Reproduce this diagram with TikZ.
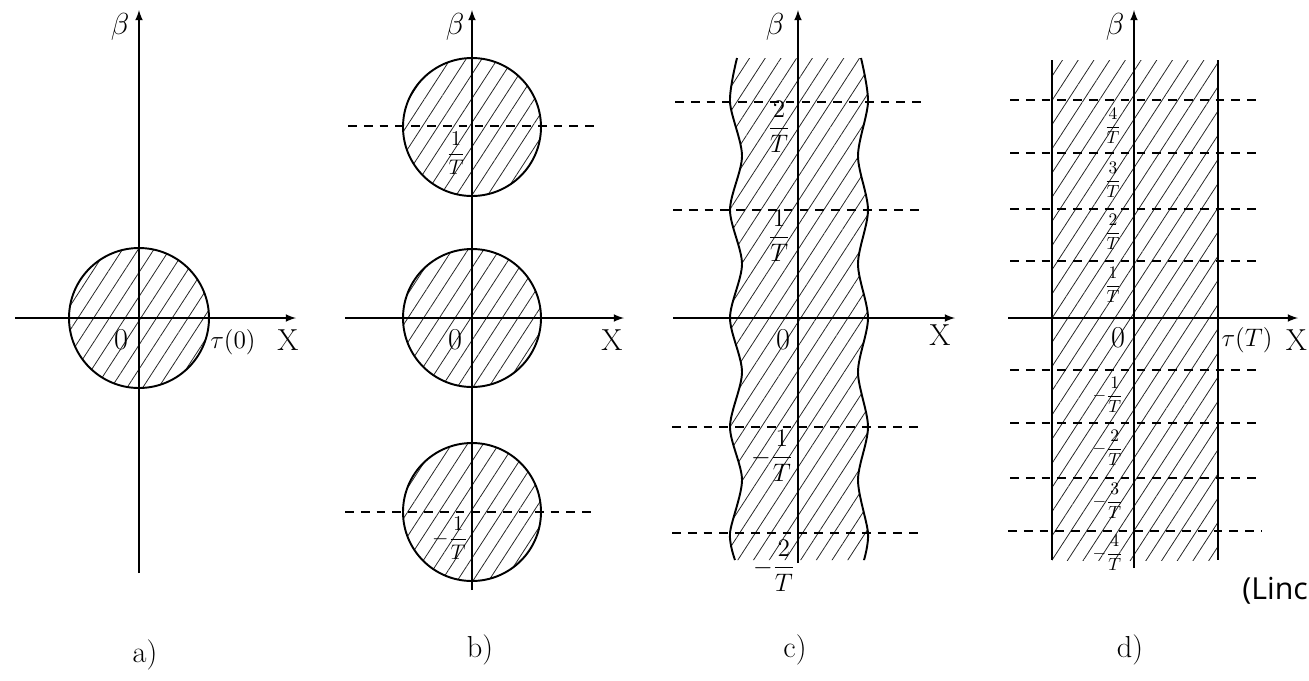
\documentclass[tikz,border=0pt]{standalone}
\usepackage{amsmath}
\usepackage{fontspec}
\newfontfamily\notefont{Open Sans}
\usetikzlibrary{patterns.meta}

\begin{document}
\begin{tikzpicture}[x=0.02cm,y=-0.02cm,>=latex,
  axis/.style={line width=1pt,->},
  rim/.style={line width=1.1pt},
  gridline/.style={dashed,line width=0.6pt,dash pattern=on 5pt off 4pt},
  hatch/.style={pattern={Lines[angle=57,distance=7.5pt,line width=0.45pt]},pattern color=black!85},
  lab/.style={font=\LARGE,inner sep=1pt},
  taulab/.style={font=\Large,inner sep=1pt},
  frac/.style={font=\Large,inner sep=1pt},
  fracb/.style={font=\large,inner sep=1pt},
  fracd/.style={font=\normalsize,inner sep=1pt}]

\useasboundingbox (0,0) rectangle (1309,680);

% a)
\filldraw[rim,hatch] (139,318) circle [radius=70];
\draw[axis] (15,318) -- (296,318);
\draw[axis] (139,573) -- (139,10);
\node[lab] (aBeta) at (120,27) {$\beta$};
\node[lab] (aZero) at (121,340) {$0$};
\node[taulab] (aTau) at (233,342) {$\tau(0)$};
\node[lab] (aX) at (288,340) {X};
\node[lab] (aCap) at (145,655) {a)};

% b)
\filldraw[rim,hatch] (472,127) circle [radius=69];
\filldraw[rim,hatch] (472,318) circle [radius=69];
\filldraw[rim,hatch] (472,512) circle [radius=69];
\draw[gridline] (348,126) -- (598,126);
\draw[gridline] (345,512) -- (598,512);
\draw[axis] (345,318) -- (624,318);
\draw[axis] (472,590) -- (472,10);
\node[lab] (bBeta) at (455,27) {$\beta$};
\node[fracb] (bOne) at (456,153) {$\dfrac{1}{T}$};
\node[lab] (bZero) at (455,340) {$0$};
\node[lab] (bX) at (612,340) {X};
\node[fracb] (bMinusOne) at (450,538) {$-\dfrac{1}{T}$};
\node[lab] (bCap) at (480,650) {b)};

% c)  wavy band
\path[hatch] plot[smooth] coordinates {(737,58) (730,102) (742,156) (730,210) (742,264) (730,318)
    (742,372) (730,427) (742,480) (730,533) (735,560)}
  -- plot[smooth] coordinates {(864,560) (868,533) (858,480) (868,427) (858,372) (868,318)
    (858,264) (868,210) (858,156) (868,102) (861,58)} -- cycle;
\draw[rim] plot[smooth] coordinates {(737,58) (730,102) (742,156) (730,210) (742,264) (730,318)
    (742,372) (730,427) (742,480) (730,533) (735,560)};
\draw[rim] plot[smooth] coordinates {(864,560) (868,533) (858,480) (868,427) (858,372) (868,318)
    (858,264) (868,210) (858,156) (868,102) (861,58)};
\draw[gridline] (675,102) -- (928,102);
\draw[gridline] (673,210) -- (926,210);
\draw[gridline] (672,427) -- (925,427);
\draw[gridline] (672,533) -- (925,533);
\draw[axis] (673,318) -- (955,318);
\draw[axis] (798,563) -- (798,10);
\node[lab] (cBeta) at (775,27) {$\beta$};
\node[frac] (cTwo) at (779,127) {$\dfrac{2}{T}$};
\node[frac] (cOne) at (779,236) {$\dfrac{1}{T}$};
\node[lab] (cZero) at (783,340) {$0$};
\node[lab] (cX) at (940,335) {X};
\node[frac] (cMinusOne) at (772,456) {$-\dfrac{1}{T}$};
\node[frac] (cMinusTwo) at (774,566) {$-\dfrac{2}{T}$};
\node[lab] (cCap) at (795,650) {c)};

% d)
\path[hatch] (1052,60) rectangle (1218,560);
\draw[rim] (1052,60) -- (1052,560);
\draw[rim] (1218,60) -- (1218,560);
\draw[gridline] (1010,100) -- (1262,100);
\draw[gridline] (1010,153) -- (1262,153);
\draw[gridline] (1010,209) -- (1262,209);
\draw[gridline] (1010,261) -- (1262,261);
\draw[gridline] (1010,370) -- (1262,370);
\draw[gridline] (1010,423) -- (1262,423);
\draw[gridline] (1010,478) -- (1262,478);
\draw[gridline] (1008,531) -- (1262,531);
\draw[axis] (1008,318) -- (1298,318);
\draw[axis] (1134,568) -- (1134,10);
\node[lab] (dBeta) at (1115,27) {$\beta$};
\node[fracd] (dFour) at (1113,126) {$\dfrac{4}{T}$};
\node[fracd] (dThree) at (1113,180) {$\dfrac{3}{T}$};
\node[fracd] (dTwo) at (1113,232) {$\dfrac{2}{T}$};
\node[fracd] (dOne) at (1113,285) {$\dfrac{1}{T}$};
\node[lab] (dZero) at (1118,338) {$0$};
\node[taulab] (dTau) at (1247,340) {$\tau(T)$};
\node[lab,anchor=east] (dX) at (1309,340) {X};
\node[fracd] (dMinusOne) at (1108,395) {$-\dfrac{1}{T}$};
\node[fracd] (dMinusTwo) at (1108,448) {$-\dfrac{2}{T}$};
\node[fracd] (dMinusThree) at (1108,501) {$-\dfrac{3}{T}$};
\node[fracd] (dMinusFour) at (1108,553) {$-\dfrac{4}{T}$};
\node[lab] (dCap) at (1130,650) {d)};

\node[font=\notefont\LARGE,anchor=west,inner sep=0pt] (source) at (1242,591) {(Linc};

\end{tikzpicture}
\end{document}
